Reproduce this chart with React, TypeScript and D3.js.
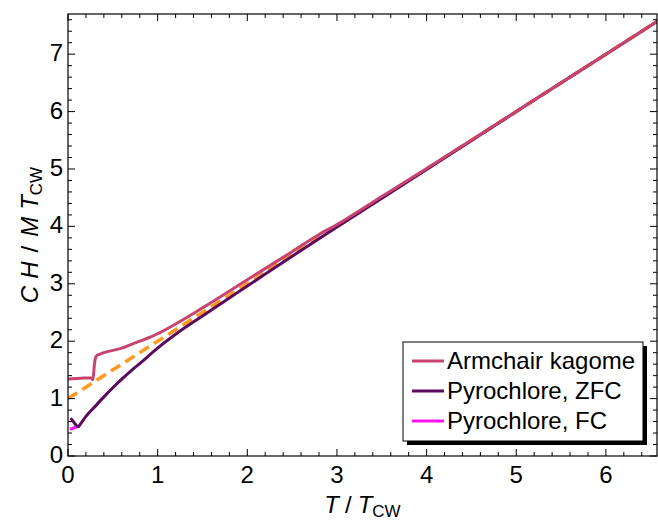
import React from "react";
import * as d3 from "d3";

// Reduced temperature T / T_CW
const armchairT = [0, 0.05, 0.1, 0.15, 0.2, 0.25, 0.265, 0.275, 0.285, 0.295, 0.305, 0.32, 0.35, 0.4, 0.5, 0.6, 0.7, 0.8, 0.9, 1.0, 1.2, 1.5, 2.0, 2.5, 2.8, 3.0, 3.5, 4.0, 5.0, 6.0, 6.6];
const armchairY = [1.34, 1.345, 1.35, 1.355, 1.36, 1.36, 1.35, 1.33, 1.42, 1.6, 1.7, 1.75, 1.77, 1.8, 1.84, 1.88, 1.94, 2.0, 2.06, 2.13, 2.3, 2.58, 3.07, 3.56, 3.86, 4.03, 4.52, 5.01, 6.0, 7.0, 7.6];

const zfcT = [0.03, 0.06, 0.09, 0.115, 0.14, 0.2, 0.3, 0.4, 0.5, 0.6, 0.7, 0.8, 1.0, 1.2, 1.5, 2.0, 2.5, 3.0, 4.0, 5.0, 6.0, 6.6];
const zfcY = [0.66, 0.6, 0.54, 0.51, 0.56, 0.69, 0.86, 1.03, 1.19, 1.34, 1.48, 1.61, 1.88, 2.12, 2.44, 2.96, 3.48, 3.99, 4.99, 6.0, 7.0, 7.6];

const fcT = [0.02, 0.05, 0.08, 0.11, 0.13];
const fcY = [0.47, 0.48, 0.5, 0.51, 0.53];

// High-temperature Curie–Weiss asymptote
const cwT = [0, 6.6];
const cwY = [1, 7.6];

const xTicks = [0, 1, 2, 3, 4, 5, 6];
const yTicks = [0, 1, 2, 3, 4, 5, 6, 7];

const seriesNames = ["Armchair kagome", "Pyrochlore, ZFC", "Pyrochlore, FC"];
const seriesColors = ["#C8446F", "#5B0A5E", "#FF14F0"];
const cwColor = "#FF9A1E";

const W = 658;
const H = 523;
const M = { left: 68, right: 657, top: 14, bottom: 456 };
const FONT = "'Liberation Sans', Arial, Helvetica, sans-serif";

export default function App() {
  const x = d3.scaleLinear().domain([0, 6.57]).range([M.left, M.right]);
  const y = d3.scaleLinear().domain([0, 7.7]).range([M.bottom, M.top]);

  const line = d3
    .line<[number, number]>()
    .x((d) => x(d[0]))
    .y((d) => y(d[1]))
    .curve(d3.curveMonotoneX);

  const pts = (ts: number[], vs: number[]) => ts.map((t, i) => [t, vs[i]] as [number, number]);

  const xMinor = d3.range(0, 6.57 + 1e-9, 0.2).filter((v) => Math.abs(v - Math.round(v)) > 1e-6);
  const yMinor = d3.range(0, 7.7 + 1e-9, 0.2).filter((v) => Math.abs(v - Math.round(v)) > 1e-6);

  const legendX = 403;
  const legendY = 342;
  const legendW = 240;
  const legendH = 99;

  return (
    <svg
      width={W}
      height={H}
      style={{ position: "absolute", left: 0, top: 0, background: "#fff" }}
      fontFamily={FONT}
    >
      <defs>
        <clipPath id="plotArea">
          <rect x={M.left} y={M.top} width={M.right - M.left} height={M.bottom - M.top} />
        </clipPath>
      </defs>

      {/* curves */}
      <g clipPath="url(#plotArea)" fill="none" strokeLinejoin="round">
        <path d={line(pts(cwT, cwY)) || ""} stroke={cwColor} strokeWidth={3.5} strokeDasharray="11,6" />
        <path d={line(pts(fcT, fcY)) || ""} stroke={seriesColors[2]} strokeWidth={3} />
        <path d={line(pts(zfcT, zfcY)) || ""} stroke={seriesColors[1]} strokeWidth={3} />
        <path d={line(pts(armchairT, armchairY)) || ""} stroke={seriesColors[0]} strokeWidth={3} />
      </g>

      {/* frame */}
      <rect
        x={M.left}
        y={M.top}
        width={M.right - M.left}
        height={M.bottom - M.top}
        fill="none"
        stroke="#000"
        strokeWidth={1.2}
      />

      {/* ticks, pointing inward on all four sides */}
      <g stroke="#000" strokeWidth={1}>
        {xTicks.map((t) => (
          <g key={"xt" + t}>
            <line x1={x(t)} x2={x(t)} y1={M.bottom} y2={M.bottom - 7} />
            <line x1={x(t)} x2={x(t)} y1={M.top} y2={M.top + 7} />
          </g>
        ))}
        {xMinor.map((t) => (
          <g key={"xm" + t}>
            <line x1={x(t)} x2={x(t)} y1={M.bottom} y2={M.bottom - 4} />
            <line x1={x(t)} x2={x(t)} y1={M.top} y2={M.top + 4} />
          </g>
        ))}
        {yTicks.map((t) => (
          <g key={"yt" + t}>
            <line x1={M.left} x2={M.left + 7} y1={y(t)} y2={y(t)} />
            <line x1={M.right} x2={M.right - 7} y1={y(t)} y2={y(t)} />
          </g>
        ))}
        {yMinor.map((t) => (
          <g key={"ym" + t}>
            <line x1={M.left} x2={M.left + 4} y1={y(t)} y2={y(t)} />
            <line x1={M.right} x2={M.right - 4} y1={y(t)} y2={y(t)} />
          </g>
        ))}
      </g>

      {/* tick labels */}
      <g fontSize={24} fill="#000">
        {xTicks.map((t) => (
          <text key={"xl" + t} x={x(t)} y={M.bottom + 27} textAnchor="middle">
            {t}
          </text>
        ))}
        {yTicks.map((t) => (
          <text key={"yl" + t} x={M.left - 5} y={y(t) + 7} textAnchor="end">
            {t}
          </text>
        ))}
      </g>

      {/* axis labels */}
      <text x={(M.left + M.right) / 2} y={513} textAnchor="middle" fontSize={24}>
        <tspan fontStyle="italic">T</tspan>
        <tspan dx={6}>/</tspan>
        <tspan dx={6} fontStyle="italic">T</tspan>
        <tspan fontSize={17} dy={4}>CW</tspan>
      </text>
      <text
        transform={`translate(38, ${(M.top + M.bottom) / 2}) rotate(-90)`}
        textAnchor="middle"
        fontSize={24}
      >
        <tspan fontStyle="italic">C</tspan>
        <tspan dx={7} fontStyle="italic">H</tspan>
        <tspan dx={9}>/</tspan>
        <tspan dx={9} fontStyle="italic">M</tspan>
        <tspan dx={7} fontStyle="italic">T</tspan>
        <tspan fontSize={17} dy={4}>CW</tspan>
      </text>

      {/* legend */}
      <rect x={legendX + 4} y={legendY + 4} width={legendW} height={legendH} fill="#000" />
      <rect x={legendX} y={legendY} width={legendW} height={legendH} fill="#fff" stroke="#000" strokeWidth={1} />
      {seriesNames.map((name, i) => {
        const ry = legendY + 19 + i * 30;
        return (
          <g key={name}>
            <line x1={legendX + 9} x2={legendX + 41} y1={ry} y2={ry} stroke={seriesColors[i]} strokeWidth={3} />
            <text x={legendX + 44} y={ry + 8} fontSize={24}>
              {name}
            </text>
          </g>
        );
      })}
    </svg>
  );
}
